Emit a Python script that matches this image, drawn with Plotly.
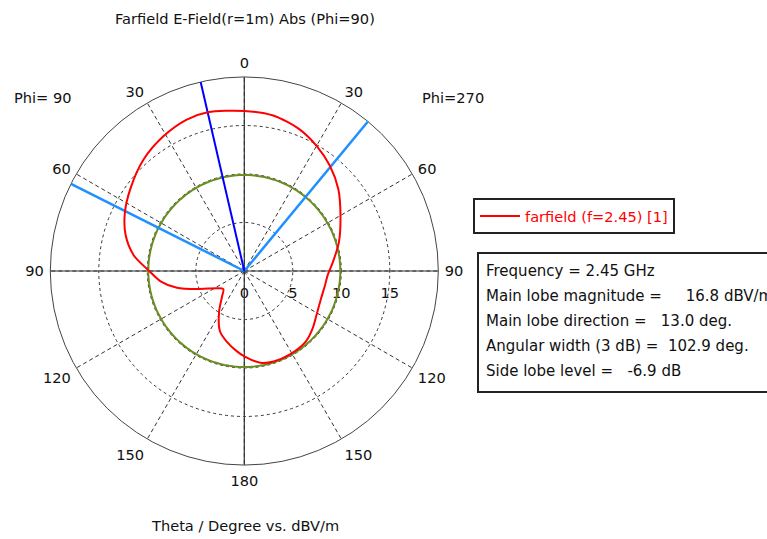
import plotly.graph_objects as go

# ---------------- data ----------------
# plot angle: clockwise from top; right half = Theta (Phi=270), left half = 360 - Theta (Phi=90)
angle_deg = [0, 10.5, 21, 30, 39, 49, 60, 73, 84, 93, 100, 109, 121, 130, 139, 151, 162, 170, 180,
             185.4, 194, 202, 212, 221, 229.4, 238, 249, 256, 263, 270, 278, 287, 296, 306, 318,
             329, 339, 347, 360]
efield_dbv = [16.5, 16.3, 15.7, 14.9, 14.0, 12.85, 11.45, 10.2, 9.2, 8.6, 8.45, 8.4, 8.7, 9.2, 9.65,
              9.8, 9.8, 9.6, 8.8, 8.3, 7.5, 6.7, 4.9, 3.5, 2.85, 3.35, 5.2, 7.15, 8.7, 9.8, 11.5,
              12.8, 13.7, 14.5, 15.5, 16.2, 16.7, 16.8, 16.5]

main_lobe_magnitude = 16.8      # dBV/m
main_lobe_direction = 347.0     # 13.0 deg on Phi=90 side
beam_edges = [39.6, 296.7]      # 3 dB edges (angular width 102.9 deg)
side_lobe_level = -6.9          # dB
r_max = 20

circle_angles = list(range(0, 361, 3))

angle_ticks = [0, 30, 60, 90, 120, 150, 180, 210, 240, 270, 300, 330]
angle_labels = ['0', '30', '60', '90', '120', '150', '180', '150', '120', '90', '60', '30']
radial_ticks = [0, 5, 10, 15]
radial_labels = ['0', '5', '10', '15']

info_lines = ["Frequency = 2.45 GHz",
              "Main lobe magnitude =     16.8 dBV/m",
              "Main lobe direction =   13.0 deg.",
              "Angular width (3 dB) =  102.9 deg.",
              "Side lobe level =   -6.9 dB"]

# ---------------- layout geometry ----------------
W, H = 767, 539
cx, cy, R = 244.3, 271.0, 194.0
FONT = "DejaVu Sans"
TXT = "#111111"
FS = 14.6

fig = go.Figure()

# solid axis cross
fig.add_trace(go.Scatterpolar(theta=[0, 0, 180], r=[r_max, 0, r_max], mode="lines",
                              line=dict(color="#333333", width=1.2), showlegend=False, hoverinfo="skip"))
fig.add_trace(go.Scatterpolar(theta=[90, 0, 270], r=[r_max, 0, r_max], mode="lines",
                              line=dict(color="#333333", width=1.2), showlegend=False, hoverinfo="skip"))

# side lobe level circle
sll_r = main_lobe_magnitude + side_lobe_level
fig.add_trace(go.Scatterpolar(theta=circle_angles, r=[sll_r] * len(circle_angles), mode="lines",
                              line=dict(color="#6B8E23", width=2), showlegend=False, hoverinfo="skip"))

# beam width edges
for a in beam_edges:
    fig.add_trace(go.Scatterpolar(theta=[a, a], r=[0, r_max], mode="lines",
                                  line=dict(color="#1E90FF", width=2.5), showlegend=False, hoverinfo="skip"))

# main lobe direction
fig.add_trace(go.Scatterpolar(theta=[main_lobe_direction, main_lobe_direction], r=[0, r_max], mode="lines",
                              line=dict(color="#0000FF", width=2), showlegend=False, hoverinfo="skip"))

# farfield curve
fig.add_trace(go.Scatterpolar(theta=angle_deg, r=efield_dbv, mode="lines",
                              line=dict(color="#FF0000", width=2, shape="spline", smoothing=0.8),
                              name="farfield (f=2.45) [1]"))

fig.update_layout(
    width=W, height=H,
    margin=dict(l=0, r=0, t=0, b=0),
    paper_bgcolor="white",
    font=dict(family=FONT, size=FS, color=TXT),
    showlegend=True,
    legend=dict(x=473 / W, y=1 - 198 / H, xanchor="left", yanchor="top",
                bordercolor="#222222", borderwidth=2, bgcolor="white",
                font=dict(family=FONT, size=FS, color="#FF0000"),
                itemwidth=40),
    polar=dict(
        domain=dict(x=[(cx - R) / W, (cx + R) / W], y=[1 - (cy + R) / H, 1 - (cy - R) / H]),
        bgcolor="white",
        angularaxis=dict(rotation=90, direction="clockwise",
                         tickmode="array", tickvals=angle_ticks, ticktext=angle_labels,
                         showline=True, linecolor="#444444", linewidth=1,
                         showgrid=True, gridcolor="#333333", gridwidth=1, griddash="4px,3px",
                         ticks="outside", ticklen=3, tickcolor="rgba(0,0,0,0)",
                         tickfont=dict(family=FONT, size=FS, color=TXT),
                         layer="below traces"),
        radialaxis=dict(range=[0, r_max], angle=0, tickangle=0,
                        tickmode="array", tickvals=radial_ticks, ticktext=radial_labels,
                        showline=False, ticks="outside", ticklen=9, tickcolor="rgba(0,0,0,0)",
                        showgrid=True, gridcolor="#333333", gridwidth=1, griddash="3px,3px",
                        tickfont=dict(family=FONT, size=FS, color=TXT),
                        layer="below traces"),
    ),
)

# title texts
fig.add_annotation(text="Farfield E-Field(r=1m) Abs (Phi=90)", x=245 / W, y=1 - 18 / H,
                   xref="paper", yref="paper", showarrow=False, xanchor="center", yanchor="middle",
                   font=dict(family=FONT, size=FS, color=TXT))
fig.add_annotation(text="Theta / Degree vs. dBV/m", x=245 / W, y=1 - 525 / H,
                   xref="paper", yref="paper", showarrow=False, xanchor="center", yanchor="middle",
                   font=dict(family=FONT, size=FS, color=TXT))
fig.add_annotation(text="Phi= 90", x=12 / W, y=1 - 97 / H, xref="paper", yref="paper",
                   showarrow=False, xanchor="left", yanchor="middle",
                   font=dict(family=FONT, size=FS, color=TXT))
fig.add_annotation(text="Phi=270", x=420 / W, y=1 - 97 / H, xref="paper", yref="paper",
                   showarrow=False, xanchor="left", yanchor="middle",
                   font=dict(family=FONT, size=FS, color=TXT))

# info box
fig.add_shape(type="rect", xref="paper", yref="paper",
              x0=478 / W, x1=800 / W, y0=1 - 392 / H, y1=1 - 253 / H,
              line=dict(color="#222222", width=2), fillcolor="white", layer="below")
for i, line in enumerate(info_lines):
    fig.add_annotation(text=line.replace(" ", "&nbsp;"), x=484 / W, y=1 - (271 + 25 * i) / H,
                       xref="paper", yref="paper", showarrow=False, xanchor="left", yanchor="middle",
                       font=dict(family=FONT, size=15, color=TXT))

fig.write_html("out.html", config={"displayModeBar": False},
               post_script="document.body.style.margin='0';document.body.style.overflow='hidden';")
